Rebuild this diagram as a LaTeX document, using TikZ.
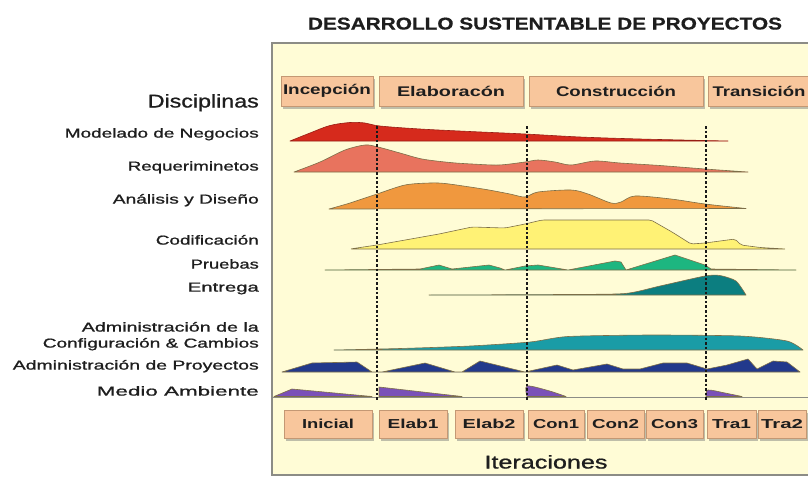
\documentclass[tikz,border=0pt]{standalone}
\usepackage{fontspec}
\setmainfont{Liberation Sans}
\newfontfamily\labfont[FakeBold=0.9]{Liberation Sans}
\newfontfamily\titfont[FakeBold=0.6]{Liberation Sans Bold}
\usepackage{graphicx}
\usetikzlibrary{shadows}
\newcommand{\fitw}[2]{\resizebox{#1pt}{\height}{#2}}
\definecolor{panelfill}{HTML}{FFFCD6}
\definecolor{panelline}{HTML}{8C8C86}
\definecolor{boxfill}{HTML}{F8C69C}
\definecolor{boxline}{HTML}{C49874}
\definecolor{hred}{HTML}{D62A1C}
\definecolor{hsalmon}{HTML}{E8735E}
\definecolor{horange}{HTML}{F0983E}
\definecolor{hyellow}{HTML}{FFF275}
\definecolor{hgreen}{HTML}{1DB680}
\definecolor{hteal}{HTML}{0C7E80}
\definecolor{hcyan}{HTML}{1A9CA6}
\definecolor{hblue}{HTML}{22398C}
\definecolor{hpurple}{HTML}{7A50B8}
\definecolor{hline}{HTML}{7C6E48}
\definecolor{txt}{HTML}{1E1E1E}
\begin{document}
\begin{tikzpicture}[x=1pt,y=-1pt,
  lbl/.style={anchor=base east, inner sep=0pt, text=txt, font=\labfont\fontsize{13}{15}\selectfont},
  bigl/.style={inner sep=0pt, text=txt, font=\labfont\fontsize{18.5}{20}\selectfont},
  phase/.style={draw=boxline, fill=boxfill, line width=0.8pt, inner sep=0pt,
     minimum height=30pt, text=txt, font=\bfseries\fontsize{14}{16}\selectfont,
     drop shadow={shadow xshift=1.5pt, shadow yshift=-2.5pt, fill=black!55, opacity=0.45}},
  iter/.style={phase, minimum height=28pt, font=\bfseries\fontsize{13}{15}\selectfont},
  hump/.style={draw=hline, line width=0.6pt, line join=round},
  dotline/.style={line width=2.8pt, dash pattern=on 2.6pt off 2pt, black!90}
]
\useasboundingbox (0,0) rectangle (808,477);
\fill[white] (0,0) rectangle (808,477);
% panel
\filldraw[fill=panelfill, draw=panelline, line width=1.5pt] (272,43) rectangle (814,475);
% title
\node[inner sep=0pt, anchor=base, text=txt, font=\titfont\fontsize{17}{18}\selectfont] (title) at (545,29.5) {\fitw{474}{DESARROLLO SUSTENTABLE DE PROYECTOS}};
% phases
\node[phase, minimum width=92pt] (inc) at (327,91) {\fitw{88}{Incepción}};
\node[phase, minimum width=144pt] (ela) at (451,91) {\fitw{108}{Elaboracón}};
\node[phase, minimum width=174pt] (con) at (616,91) {\fitw{120}{Construcción}};
\node[phase, minimum width=102pt] (tra) at (759,91) {\fitw{93}{Transición}};
% left labels
\node[bigl, anchor=base east] (disc) at (259,107.5) {\fitw{111}{Disciplinas}};
\node[lbl] (l1) at (259,137.6) {\fitw{194}{Modelado de Negocios}};
\node[lbl] (l2) at (259,170.6) {\fitw{131}{Requeriminetos}};
\node[lbl] (l3) at (259,203.6) {\fitw{146}{Análisis y Diseño}};
\node[lbl] (l4) at (259,244.6) {\fitw{103}{Codificación}};
\node[lbl] (l5) at (259,268.6) {\fitw{68}{Pruebas}};
\node[lbl] (l6) at (259,291.6) {\fitw{71}{Entrega}};
\node[lbl] (l7) at (259,331.6) {\fitw{177}{Administración de la}};
\node[lbl] (l8) at (259,347.6) {\fitw{216}{Configuración \& Cambios}};
\node[lbl] (l9) at (259,369.6) {\fitw{246}{Administración de Proyectos}};
\node[lbl] (l10) at (259,395.6) {\fitw{162}{Medio Ambiente}};
% humps
\filldraw[hump, fill=hred, draw=hred!70!black] plot[smooth, tension=0.55] coordinates {(290,141) (310,133) (330,125.5) (350,122.5) (365,123) (380,126) (420,129) (470,131.5) (525,134) (580,137) (640,139) (705,140.5) (728,141)} -- cycle;
\filldraw[hump, fill=hsalmon] plot[smooth, tension=0.5] coordinates {(294,172) (320,162) (345,150) (365,145) (378,147) (400,153) (422,159) (450,162.5) (472,164) (499,165) (525,162) (538,160) (555,162) (571,165) (595,161) (620,163) (660,165.5) (705,169) (748,172)} -- cycle;
\filldraw[hump, fill=horange] plot[smooth, tension=0.5] coordinates {(329,209) (350,203) (377,194) (405,185) (430,183) (445,183.5) (470,187) (489,190) (510,194) (525,197) (538,192) (571,190) (588,194) (611,203) (621,202) (635,196) (671,199) (705,204) (746,208.5)} -- cycle;
\filldraw[hump, fill=hyellow, rounded corners=2pt] (350,249) -- (377,245) -- (439,234) -- (472,227) -- (505,228) -- (525,224) -- (542,220) -- (651,220) -- (672,232) -- (691,244) -- (705,243) -- (735,239) -- (741,245) -- (760,247.5) -- (786,249) -- cycle;
\filldraw[hump, fill=hgreen] (325,270) -- (420,269) -- (439,265) -- (452,269) -- (489,265) -- (500,268) -- (505,270) -- (525,266) -- (538,265) -- (568,270) -- (615,261) -- (621,262) -- (626,270) -- (675,255) -- (705,265) -- (711,269) -- (796,270) -- cycle;
\filldraw[hump, fill=hteal] plot[smooth, tension=0.4] coordinates {(429,295) (560,294.5) (625,293.5) (660,286) (705,276) (720,275.5) (736,281) (746,295)} -- cycle;
\filldraw[hump, fill=hcyan] plot[smooth, tension=0.4] coordinates {(334,350) (400,348.5) (470,346) (530,342) (568,336.5) (650,335) (740,336) (787,341) (803,350)} -- cycle;
\filldraw[hump, fill=hblue] (282,372) -- (312,363) -- (357,362) -- (372,372) -- (382,372) -- (425,363) -- (455,372) -- (462,372) -- (480,361) -- (525,372) -- (557,365) -- (573,370) -- (607,364) -- (623,369) -- (640,369) -- (663,363) -- (687,363) -- (707,369) -- (727,365) -- (748,359) -- (757,369) -- (773,361) -- (787,362) -- (800,372) -- cycle;
% baseline line
\draw[panelline, line width=1pt] (272,397) -- (814,397);
\filldraw[hump, fill=hpurple] (274,396.5) -- (292,389) -- (372,396.5) -- cycle;
\filldraw[hump, fill=hpurple] (379,396.5) -- (379,387) -- (462,396.5) -- cycle;
\filldraw[hump, fill=hpurple] plot[smooth, tension=0.5] coordinates {(527,396.5) (527,386) (548,390.5) (566,396.5)} -- cycle;
\filldraw[hump, fill=hpurple] plot[smooth, tension=0.5] coordinates {(706,396.5) (708,390) (725,393) (742,396.5)} -- cycle;
% dotted phase lines
\coordinate (d1t) at (377,126); \coordinate (d1b) at (377,401);
\coordinate (d2t) at (527,126); \coordinate (d2b) at (527,401);
\coordinate (d3t) at (706,126); \coordinate (d3b) at (706,401);
\draw[dotline] (d1t) -- (d1b);
\draw[dotline] (d2t) -- (d2b);
\draw[dotline] (d3t) -- (d3b);
% iterations
\node[iter, minimum width=88pt] (i1) at (328,424) {\fitw{52}{Inicial}};
\node[iter, minimum width=68pt] (i2) at (413,424) {\fitw{51}{Elab1}};
\node[iter, minimum width=68pt] (i3) at (489,424) {\fitw{53}{Elab2}};
\node[iter, minimum width=56pt] (i4) at (556,424) {\fitw{46}{Con1}};
\node[iter, minimum width=57pt] (i5) at (615.5,424) {\fitw{47}{Con2}};
\node[iter, minimum width=57pt] (i6) at (674.5,424) {\fitw{47}{Con3}};
\node[iter, minimum width=49pt] (i7) at (731.5,424) {\fitw{39}{Tra1}};
\node[iter, minimum width=48pt] (i8) at (782,424) {\fitw{42}{Tra2}};
\node[bigl, anchor=base] (itl) at (546,468.5) {\fitw{123}{Iteraciones}};
\end{tikzpicture}
\end{document}
